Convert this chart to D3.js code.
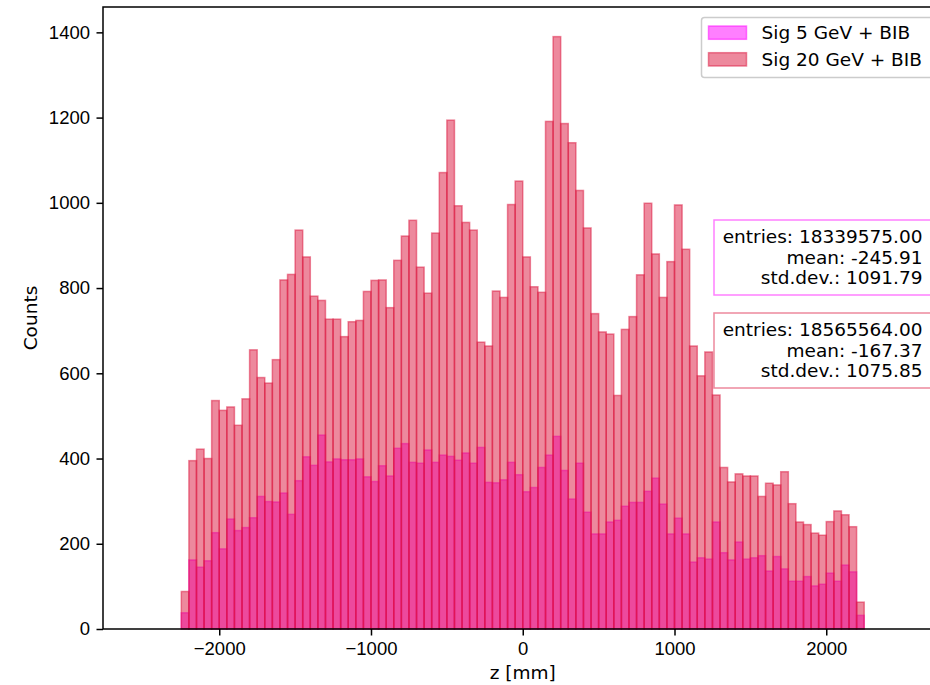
<!DOCTYPE html>
<html>
<head>
<meta charset="utf-8">
<script src="https://cdn.jsdelivr.net/npm/d3@7"></script>
<style>
  body { margin: 0; background: #fff; }
  svg { font-family: "DejaVu Sans", sans-serif; }
  .axis text { font-size: 18.5px; fill: #000; }
  .axis line { stroke: #000; stroke-width: 1.5; }
</style>
</head>
<body>
<div id="chart"></div>
<script>
// histogram binning: 90 bins of 50 mm from -2250 mm
var binStart = -2250,
    binWidth = 50;

var sig20 = [
  88, 395, 422, 400, 536, 513, 521, 478, 540, 655,
  590, 577, 632, 819, 832, 936, 873, 781, 771, 727,
  727, 686, 721, 724, 792, 818, 819, 754, 865, 922,
  959, 849, 788, 929, 1071, 1194, 993, 954, 936, 673,
  664, 793, 778, 996, 1051, 873, 803, 790, 1191, 1390,
  1186, 1141, 1029, 941, 740, 697, 692, 548, 703, 733,
  831, 999, 880, 778, 862, 995, 891, 664, 594, 650,
  549, 379, 345, 364, 359, 359, 311, 342, 338, 369,
  294, 251, 245, 225, 220, 252, 277, 268, 240, 63
];

var sig5 = [
  38, 162, 145, 160, 226, 188, 258, 231, 238, 261,
  311, 299, 298, 319, 269, 348, 404, 384, 455, 392,
  399, 397, 397, 399, 357, 346, 383, 359, 424, 435,
  391, 389, 420, 391, 408, 405, 396, 413, 389, 426,
  344, 343, 350, 391, 362, 322, 332, 379, 408, 452,
  372, 305, 389, 274, 223, 223, 251, 255, 288, 297,
  297, 323, 354, 293, 223, 260, 223, 157, 167, 164,
  251, 179, 162, 204, 164, 167, 172, 136, 170, 141,
  112, 112, 123, 101, 105, 131, 112, 150, 134, 32
];

var seriesNames = ["Sig 5 GeV + BIB", "Sig 20 GeV + BIB"];
var seriesColors = ["#ff00ff", "#dc143c"];

var statsLines = [
  ["entries: 18339575.00", "mean: -245.91", "std.dev.: 1091.79"],
  ["entries: 18565564.00", "mean: -167.37", "std.dev.: 1075.85"]
];

var xTicks = [-2000, -1000, 0, 1000, 2000];
var yTicks = [0, 200, 400, 600, 800, 1000, 1200, 1400];

var width = 930, height = 685;
var margin = {top: 7, left: 103, bottom: 56};
var plotRight = 942.5;

var svg = d3.select("#chart").append("svg")
    .attr("width", width)
    .attr("height", height);

var x = d3.scaleLinear()
    .domain([-2766, 2766])
    .range([margin.left, plotRight]);

var y = d3.scaleLinear()
    .domain([0, 1459.5])
    .range([height - margin.bottom, margin.top]);

function toBins (values) {
  return values.map(function (v, i) {
    return {x0: binStart + i * binWidth, x1: binStart + (i + 1) * binWidth, v: v};
  });
}

var series = [toBins(sig5), toBins(sig20)];

// bars, 5 GeV first so 20 GeV sits on top
series.forEach(function (bins, k) {
  svg.append("g")
      .attr("class", "hist")
    .selectAll("rect")
    .data(bins)
    .enter().append("rect")
      .attr("x", function (d) { return x(d.x0); })
      .attr("y", function (d) { return y(d.v); })
      .attr("width", function (d) { return x(d.x1) - x(d.x0); })
      .attr("height", function (d) { return y(0) - y(d.v); })
      .style("fill", seriesColors[k])
      .style("fill-opacity", 0.5)
      .style("stroke", seriesColors[k])
      .style("stroke-opacity", 0.5)
      .style("stroke-width", 1.5);
});

// axes
var xaxis = svg.append("g")
    .attr("class", "axis")
    .attr("transform", "translate(0," + y(0) + ")")
    .call(d3.axisBottom(x).tickValues(xTicks).tickSize(6.5).tickPadding(6.5).tickFormat(d3.format("d")));

var yaxis = svg.append("g")
    .attr("class", "axis")
    .attr("transform", "translate(" + margin.left + ",0)")
    .call(d3.axisLeft(y).tickValues(yTicks).tickSize(6.5).tickPadding(6.5).tickFormat(d3.format("d")));

svg.selectAll(".axis .domain").remove();

// spines
svg.append("rect")
    .attr("x", margin.left)
    .attr("y", margin.top)
    .attr("width", plotRight - margin.left)
    .attr("height", y(0) - margin.top)
    .style("fill", "none")
    .style("stroke", "#000")
    .style("stroke-width", 1.5);

svg.append("text")
    .attr("x", (margin.left + plotRight) / 2)
    .attr("y", 679)
    .attr("text-anchor", "middle")
    .style("font-size", "18.5px")
    .text("z [mm]");

svg.append("text")
    .attr("transform", "translate(37," + ((margin.top + y(0)) / 2) + ") rotate(-90)")
    .attr("text-anchor", "middle")
    .style("font-size", "18.5px")
    .text("Counts");

// legend
var legend = svg.append("g")
    .attr("class", "legend")
    .style("font-size", "18.5px");

legend.append("rect")
    .attr("x", 701.5)
    .attr("y", 17.5)
    .attr("width", 240)
    .attr("height", 60)
    .attr("rx", 3)
    .style("fill", "#fff")
    .style("fill-opacity", 0.8)
    .style("stroke", "#cccccc")
    .style("stroke-width", 1.5);

seriesNames.forEach(function (name, k) {
  legend.append("rect")
      .attr("x", 708.5)
      .attr("y", 26 + k * 26.7)
      .attr("width", 38)
      .attr("height", 13.3)
      .style("fill", seriesColors[k])
      .style("fill-opacity", 0.5)
      .style("stroke", seriesColors[k])
      .style("stroke-opacity", 0.5)
      .style("stroke-width", 1.5);

  legend.append("text")
      .attr("x", 761.5)
      .attr("y", 39 + k * 26.7)
      .text(name);
});

// stats boxes
statsLines.forEach(function (lines, k) {
  var top = 220 + k * 93;
  svg.append("rect")
      .attr("x", 714)
      .attr("y", top)
      .attr("width", 230)
      .attr("height", 75)
      .style("fill", "#fff")
      .style("stroke", seriesColors[k])
      .style("stroke-opacity", 0.5)
      .style("stroke-width", 1.5);

  svg.append("g")
      .style("font-size", "18.5px")
      .attr("text-anchor", "end")
    .selectAll("text")
    .data(lines)
    .enter().append("text")
      .attr("x", 922.5)
      .attr("y", function (d, i) { return top + 23 + i * 20.7; })
      .text(function (d) { return d; });
});
</script>
</body>
</html>
